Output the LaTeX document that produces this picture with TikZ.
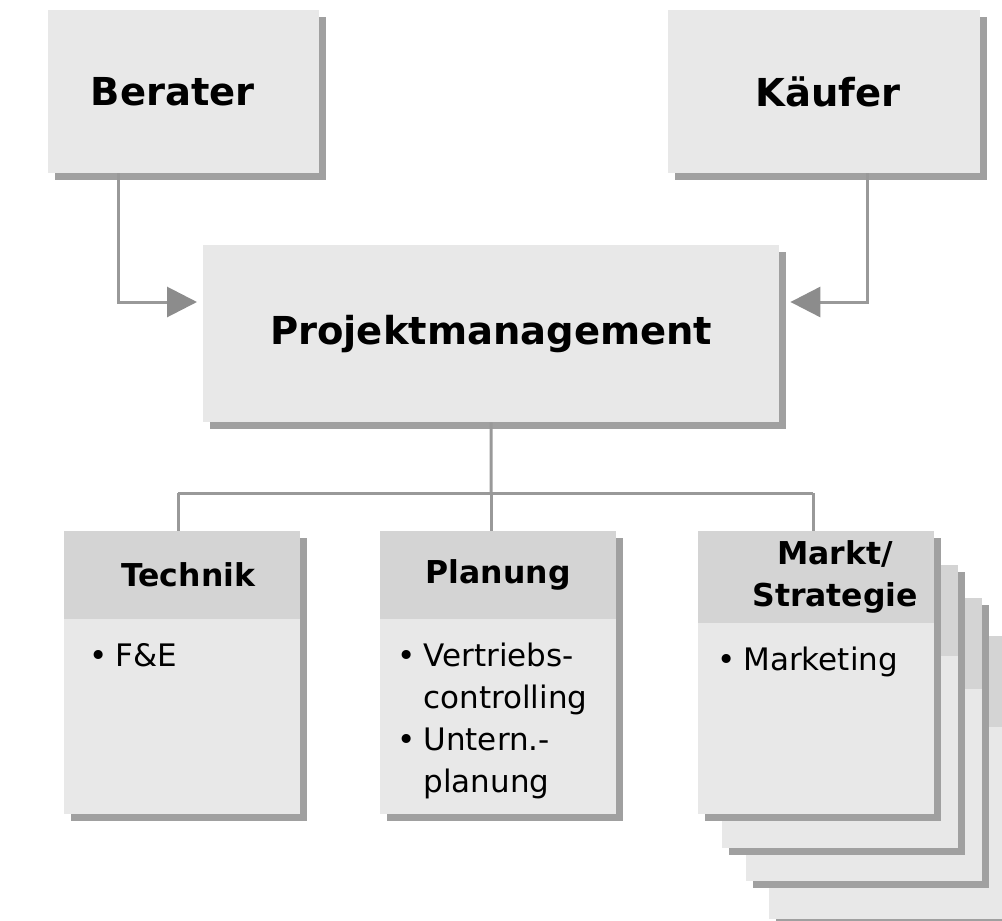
\documentclass[tikz,border=0pt]{standalone}
\usepackage{fontspec}
\setmainfont{DejaVu Sans}
\usepackage{xcolor}
\usetikzlibrary{arrows.meta,positioning,shadows}
\definecolor{boxfill}{HTML}{E8E8E8}
\definecolor{hdrfill}{HTML}{D4D4D4}
\definecolor{shd}{HTML}{A0A0A0}
\definecolor{lncol}{HTML}{999999}
\definecolor{tipcol}{HTML}{8C8C8C}

\begin{document}
\begin{tikzpicture}[x=1pt,y=-1pt,
  bx/.style={fill=boxfill,inner sep=0pt,anchor=north west,
    drop shadow={shadow xshift=7pt,shadow yshift=-7pt,fill=shd,opacity=1}},
  big/.style={bx,font=\fontsize{38.5}{46}\selectfont\bfseries},
  card/.style={bx,minimum width=236pt,minimum height=283pt},
  hdr/.style={fill=hdrfill,anchor=north,minimum width=236pt,inner sep=0pt,
    align=center,font=\fontsize{31.5}{42}\selectfont\bfseries},
  lst/.style={inner sep=0pt,font=\fontsize{31}{42}\selectfont},
  ln/.style={draw=lncol,line width=3pt},
  arr/.style={ln,-{Triangle[length=30pt,width=30pt,color=tipcol]}}
]
\useasboundingbox (0,0) rectangle (1002,921);
\clip (0,0) rectangle (1002,921);
\node[big,minimum width=271pt,minimum height=163pt] (ber) at (48,10) {Berater\hspace*{22pt}};
\node[big,minimum width=312pt,minimum height=163pt] (kae) at (668,10) {\hspace*{8pt}Käufer};
\node[big,minimum width=576pt,minimum height=177pt] (pm) at (203,245) {Projektmanagement};
\coordinate (kL) at (118,302); \coordinate (kR) at (867,302);
\draw[arr,shorten >=6pt]  (kL |- ber.south) -- (kL) -- (kL -| pm.west);
\draw[arr,shorten >=11pt] (kR |- kae.south) -- (kR) -- (kR -| pm.east);
\node[card] (pg4) at (769,636) {};
\node[hdr,minimum height=91pt] (pg4H) at (pg4.north) {};
\node[card] (pg3) at (746,598) {};
\node[hdr,minimum height=91pt] (pg3H) at (pg3.north) {};
\node[card] (pg2) at (722,565) {};
\node[hdr,minimum height=91pt] (pg2H) at (pg2.north) {};
\node[card] (tech)  at (64,531)  {};
\node[card] (plan)  at (380,531) {};
\node[card] (markt) at (698,531) {};
\node[hdr,minimum height=88pt] (techH)  at (tech.north)  {\hspace*{12pt}Technik};
\node[hdr,minimum height=88pt] (planH)  at (plan.north)  {Planung};
\node[hdr,minimum height=92pt] (marktH) at (markt.north) {\hspace*{38pt}Markt/\\\hspace*{38pt}Strategie};
\node[lst,below right=17pt and 25pt of techH.south west] (techL)
  {\begin{tabular}{@{}l@{\hspace{8pt}}l@{}}\textbullet & F\&E\end{tabular}};
\node[lst,below right=17pt and 17pt of planH.south west] (planL)
  {\begin{tabular}{@{}l@{\hspace{8pt}}l@{}}\textbullet & Vertriebs-\\ & controlling\\
   \textbullet & Untern.-\\ & planung\end{tabular}};
\node[lst,below right=17pt and 19pt of marktH.south west] (marktL)
  {\begin{tabular}{@{}l@{\hspace{8pt}}l@{}}\textbullet & Marketing\end{tabular}};
\coordinate (bus) at (491,493);
\coordinate (busL) at (178,493); \coordinate (busR) at (813,493);
\draw[ln] (pm.south) -- (bus);
\draw[ln] (busL) -- (busR);
\draw[ln] (busL) -- (busL |- tech.north);
\draw[ln] (bus) -- (bus |- plan.north);
\draw[ln] (busR) -- (busR |- markt.north);
\end{tikzpicture}
\end{document}
